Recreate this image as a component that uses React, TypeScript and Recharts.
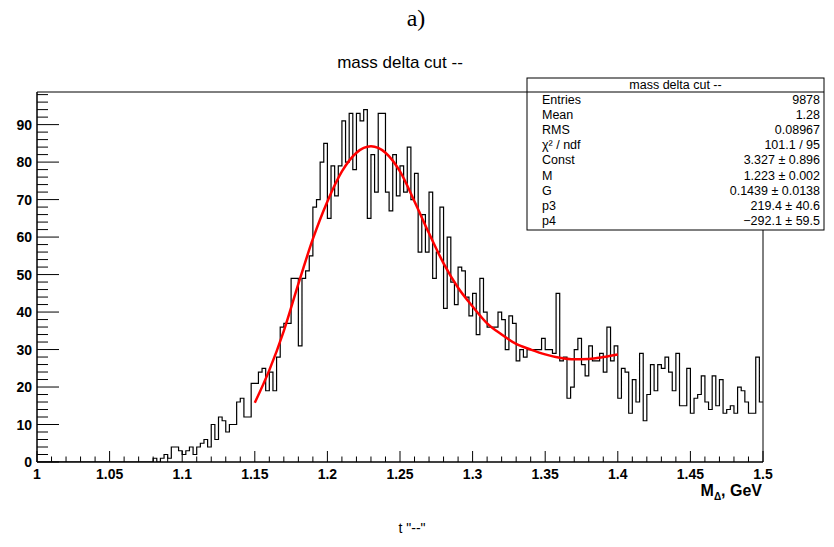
import { ComposedChart, Line, XAxis, YAxis, ReferenceArea } from 'recharts';

// histogram: 200 bins of 0.0025 from 1.0 to 1.5
const BIN_LO = 1;
const BIN_W = 0.0025;
const binCounts = [
  0, 0, 0, 0, 0, 0, 0, 0, 0, 0, 0, 0, 0, 0, 0, 0,
  0, 0, 0, 0, 0, 0, 0, 0, 0, 0, 0, 0, 0, 0, 0, 0,
  1, 0, 1, 2, 1, 4, 4, 3, 2, 3,
  4, 2, 4, 5, 6, 4, 10, 6, 12, 11,
  8, 10, 10, 16, 17, 12, 12, 21, 21, 24,
  25, 19, 24, 19, 28, 36, 37, 37, 49, 49,
  31, 49, 51, 55, 68, 70, 80, 85, 65, 79,
  71, 79, 91, 80, 93, 78, 93, 91, 94, 65,
  82, 72, 93, 93, 72, 67, 82, 71, 79, 72,
  84, 70, 77, 56, 66, 56, 72, 49, 56, 68,
  41, 60, 48, 42, 52, 51, 44, 39, 45, 34,
  49, 40, 36, 36, 36, 40, 38, 30, 39, 37,
  27, 30, 28, 30, 30, 30, 30, 33, 30, 30,
  29, 45, 27, 28, 17, 20, 30, 33, 26, 23,
  31, 27, 27, 29, 24, 36, 27, 31, 17, 25,
  24, 13, 22, 16, 29, 11, 18, 26, 19, 26,
  25, 28, 24, 19, 29, 15, 15, 25, 13, 17,
  18, 23, 16, 14, 23, 15, 22, 13, 14, 15,
  13, 20, 19, 16, 13, 13, 28, 16,
];

// fitted curve
const fitX = [1.15, 1.16, 1.17, 1.18, 1.19, 1.2, 1.21, 1.22, 1.23, 1.24, 1.25, 1.26, 1.27,
  1.28, 1.29, 1.3, 1.31, 1.32, 1.33, 1.34, 1.35, 1.36, 1.37, 1.38, 1.39, 1.4];
const fitY = [15.8, 24.5, 35, 47.5, 59.5, 69.5, 77.5, 82.5, 84.2, 82.5, 77.5, 69.5, 61,
  53, 46.5, 41.5, 37, 34, 31.5, 30, 28.7, 27.8, 27.4, 27.5, 28, 28.7];

const statsTitle = 'mass delta cut --';
const statsNames = ['Entries', 'Mean', 'RMS', 'χ² / ndf', 'Const', 'M', 'G', 'p3', 'p4'];
const statsValues = ['9878', '1.28', '0.08967', '101.1 / 95', '3.327 ± 0.896', '1.223 ± 0.002',
  '0.1439 ± 0.0138', '219.4 ± 40.6', '−292.1 ± 59.5'];

const X_MIN = 1;
const X_MAX = 1.5;
const Y_MAX = 98.7;

const histData = binCounts.map((n, i) => ({ x: BIN_LO + i * BIN_W, n }));
histData.push({ x: BIN_LO + binCounts.length * BIN_W, n: binCounts[binCounts.length - 1] });
const fitData = fitX.map((x, i) => ({ x, f: fitY[i] }));

const xTicks = Array.from({ length: 51 }, (_, i) => +(1 + i * 0.01).toFixed(2));
const yTicks = Array.from({ length: 50 }, (_, i) => i * 2);

const FONT = '"Liberation Sans", Arial, Helvetica, sans-serif';

const XTick = (props: any) => {
  const { x, y, payload } = props;
  const v = payload.value;
  const major = Math.abs(v * 20 - Math.round(v * 20)) < 1e-6;
  return (
    <g>
      <line x1={x} x2={x} y1={y} y2={y - (major ? 11 : 5.5)} stroke="#000" strokeWidth={1} />
      {major && (
        <text x={x} y={y + 17} textAnchor="middle" fontSize={14} fontWeight="bold" fontFamily={FONT} fill="#000">
          {String(v)}
        </text>
      )}
    </g>
  );
};

const YTick = (props: any) => {
  const { x, y, payload } = props;
  const v = payload.value;
  const major = v % 10 === 0;
  return (
    <g>
      <line x1={x} x2={x + (major ? 22 : 11)} y1={y} y2={y} stroke="#000" strokeWidth={1} />
      {major && (
        <text x={x - 5} y={y + 5} textAnchor="end" fontSize={14} fontWeight="bold" fontFamily={FONT} fill="#000">
          {String(v)}
        </text>
      )}
    </g>
  );
};

export default function App() {
  const rowY = statsNames.map((_, i) => 104 + i * 15.1);
  return (
    <div style={{ position: 'absolute', left: 0, top: 0, width: 834, height: 547, background: '#fff' }}>
      <ComposedChart width={834} height={547} margin={{ top: 92, right: 71, bottom: 84, left: 36 }}>
        <XAxis
          type="number"
          dataKey="x"
          domain={[X_MIN, X_MAX]}
          ticks={xTicks}
          interval={0}
          tickSize={0}
          tickMargin={0}
          tickLine={false}
          tick={XTick}
          axisLine={{ stroke: '#000' }}
          height={1}
          allowDataOverflow
        />
        <YAxis
          type="number"
          domain={[0, Y_MAX]}
          ticks={yTicks}
          interval={0}
          tickSize={0}
          tickMargin={0}
          tickLine={false}
          tick={YTick}
          axisLine={{ stroke: '#000' }}
          width={1}
          allowDataOverflow
        />
        <ReferenceArea x1={X_MIN} x2={X_MAX} y1={0} y2={Y_MAX} fill="none" stroke="#000" strokeWidth={1} />
        <Line
          data={histData}
          dataKey="n"
          type="stepAfter"
          stroke="#000"
          strokeWidth={1.2}
          dot={false}
          isAnimationActive={false}
        />
        <Line
          data={fitData}
          dataKey="f"
          type="monotone"
          stroke="#ff0000"
          strokeWidth={2.5}
          dot={false}
          isAnimationActive={false}
        />
      </ComposedChart>
      <svg width={834} height={547} style={{ position: 'absolute', left: 0, top: 0, pointerEvents: 'none' }}>
        <text x={416} y={26} textAnchor="middle" fontSize={24} fontFamily='"Liberation Serif", "DejaVu Serif", serif'>a)</text>
        <text x={400} y={68} textAnchor="middle" fontSize={17} fontFamily={FONT}>mass delta cut --</text>
        <text x={762} y={496} textAnchor="end" fontSize={16} fontWeight="bold" fontFamily={FONT}>
          M<tspan fontSize={10} dy={4}>Δ</tspan><tspan dy={-4}>, GeV</tspan>
        </text>
        <text x={412} y={533} textAnchor="middle" fontSize={14} fontFamily={FONT}>t "--"</text>
        <rect x={527} y={78} width={297} height={152} fill="#fff" stroke="#000" strokeWidth={1} />
        <line x1={527} x2={824} y1={92} y2={92} stroke="#000" strokeWidth={1} />
        <text x={675.5} y={89} textAnchor="middle" fontSize={12.5} fontFamily={FONT}>{statsTitle}</text>
        {statsNames.map((name, i) => (
          <text key={name} x={542} y={rowY[i]} fontSize={12.5} fontFamily={FONT}>{name}</text>
        ))}
        {statsValues.map((val, i) => (
          <text key={i} x={820} y={rowY[i]} textAnchor="end" fontSize={12.5} fontFamily={FONT}>{val}</text>
        ))}
      </svg>
    </div>
  );
}
